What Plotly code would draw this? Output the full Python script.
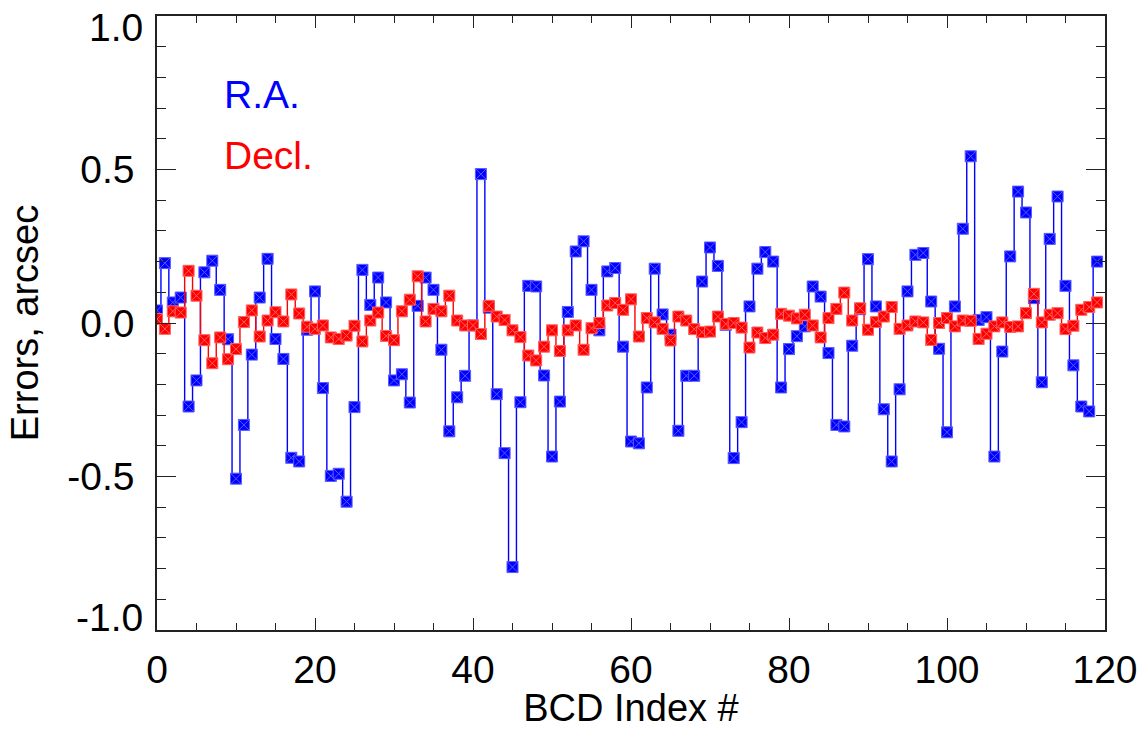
import plotly.graph_objects as go

bcd_index = list(range(120))

ra_err = [
    0.041, 0.195, 0.067, 0.083, -0.272, -0.187, 0.165, 0.203, 0.108, -0.053,
    -0.507, -0.332, -0.103, 0.083, 0.209, -0.052, -0.117, -0.439, -0.451, -0.022,
    0.103, -0.212, -0.498, -0.491, -0.582, -0.274, 0.173, 0.059, 0.148, 0.067,
    -0.187, -0.167, -0.259, 0.056, 0.148, 0.108, -0.087, -0.353, -0.242, -0.172,
    -0.008, 0.485, 0.050, -0.232, -0.424, -0.795, -0.258, 0.121, 0.119, -0.171,
    -0.435, -0.256, 0.036, 0.233, 0.266, 0.108, -0.024, 0.168, 0.179, -0.077,
    -0.386, -0.392, -0.210, 0.177, 0.028, -0.038, -0.351, -0.172, -0.172, 0.135,
    0.246, 0.186, -0.006, -0.440, -0.323, 0.054, 0.177, 0.231, 0.200, -0.210,
    -0.085, -0.043, -0.011, 0.119, 0.086, -0.098, -0.332, -0.337, -0.074, 0.045,
    0.208, 0.054, -0.281, -0.451, -0.216, 0.103, 0.222, 0.228, 0.070, -0.084,
    -0.356, 0.054, 0.307, 0.543, 0.010, 0.019, -0.435, -0.093, 0.217, 0.428,
    0.360, 0.081, -0.193, 0.274, 0.412, 0.121, -0.138, -0.272, -0.288, 0.200,
]

dec_err = [
    0.013, -0.019, 0.038, 0.034, 0.170, 0.089, -0.056, -0.131, -0.047, -0.118,
    -0.085, 0.003, 0.041, -0.044, 0.008, 0.035, 0.005, 0.093, 0.031, -0.012,
    -0.019, -0.008, -0.047, -0.052, -0.041, -0.009, -0.060, 0.008, 0.034, -0.042,
    -0.056, 0.038, 0.076, 0.152, 0.005, 0.046, 0.038, 0.089, 0.008, -0.008,
    -0.008, -0.036, 0.056, 0.021, 0.010, -0.024, -0.046, -0.106, -0.122, -0.077,
    -0.024, -0.091, -0.024, -0.008, -0.087, -0.017, 0.000, 0.057, 0.065, 0.043,
    0.077, -0.044, 0.016, 0.002, -0.019, -0.057, 0.021, 0.008, -0.020, -0.030,
    -0.028, 0.021, -0.003, 0.000, -0.015, -0.080, -0.031, -0.049, -0.038, 0.030,
    0.024, 0.015, 0.027, -0.008, -0.047, 0.016, 0.046, 0.099, 0.008, 0.048,
    -0.022, 0.003, 0.021, 0.052, -0.019, -0.008, 0.005, 0.002, -0.055, 0.000,
    0.016, -0.011, 0.008, 0.007, -0.052, -0.035, -0.011, 0.002, -0.013, -0.011,
    0.032, 0.095, 0.002, 0.027, 0.032, -0.020, -0.009, 0.043, 0.052, 0.067,
]

y_tickvals = [-1.0, -0.5, 0.0, 0.5, 1.0]
y_ticktext = ["", "-0.5", "0.0", "0.5", ""]
x_tickvals = [0, 20, 40, 60, 80, 100, 120]
x_ticktext = ["0", "20", "40", "60", "80", "100", "120"]

FONT = "Liberation Sans, Arial, sans-serif"

fig = go.Figure()
fig.add_trace(go.Scatter(
    x=bcd_index, y=ra_err, mode="lines+markers", line_shape="hvh",
    line=dict(color="#0000ff", width=1.4),
    marker=dict(symbol="square-x", size=11, color="#0000ff",
                line=dict(color="#5a5aff", width=1)),
    showlegend=False, name="R.A."))
fig.add_trace(go.Scatter(
    x=bcd_index, y=dec_err, mode="lines+markers", line_shape="hvh",
    line=dict(color="#ff0000", width=1.4),
    marker=dict(symbol="square-x", size=11, color="#ff0000",
                line=dict(color="#ff6060", width=1)),
    showlegend=False, name="Decl."))

fig.add_annotation(x=8.2, y=0.745, xref="x", yref="y", text="R.A.",
                   showarrow=False, xanchor="left", yanchor="middle",
                   font=dict(family=FONT, size=39, color="#0000ff"))
fig.add_annotation(x=8.2, y=0.545, xref="x", yref="y", text="Decl.",
                   showarrow=False, xanchor="left", yanchor="middle",
                   font=dict(family=FONT, size=39, color="#ff0000"))
# end labels of the y axis sit inside the axis span
fig.add_annotation(x=0, y=1.0, xref="paper", yref="y", text="1.0",
                   showarrow=False, xanchor="right", yanchor="top",
                   xshift=-12, yshift=12,
                   font=dict(family=FONT, size=39, color="black"))
fig.add_annotation(x=0, y=-1.0, xref="paper", yref="y", text="-1.0",
                   showarrow=False, xanchor="right", yanchor="bottom",
                   xshift=-12, yshift=-11,
                   font=dict(family=FONT, size=39, color="black"))

axis_common = dict(
    showgrid=False, zeroline=False, showline=True, linecolor="#222222",
    linewidth=1.5, mirror="ticks", ticks="inside", tickcolor="#222222",
    tickwidth=1.3, tickfont=dict(family=FONT, size=39, color="black"),
    automargin=False,
)

fig.update_xaxes(
    range=[0, 120], tickmode="array", tickvals=x_tickvals, ticktext=x_ticktext,
    ticklen=12, ticklabelstandoff=4,
    minor=dict(dtick=5, ticks="inside", ticklen=7, tickcolor="#222222", tickwidth=1.2),
    title=dict(text="BCD Index #", font=dict(family=FONT, size=38, color="black"),
               standoff=13),
    **axis_common)
fig.update_yaxes(
    range=[-1.0, 1.0], tickmode="array", tickvals=y_tickvals, ticktext=y_ticktext,
    ticklen=19, ticklabelstandoff=13,
    minor=dict(dtick=0.1, ticks="inside", ticklen=9, tickcolor="#222222", tickwidth=1.2),
    title=dict(text="Errors, arcsec", font=dict(family=FONT, size=38, color="black"),
               standoff=17),
    **axis_common)

fig.update_layout(
    width=1142, height=729,
    margin=dict(l=157, r=37, t=16, b=99),
    plot_bgcolor="white", paper_bgcolor="white",
)

fig.write_html("out.html", config={"displayModeBar": False},
               post_script="document.body.style.margin='0';document.body.style.overflow='hidden';")
